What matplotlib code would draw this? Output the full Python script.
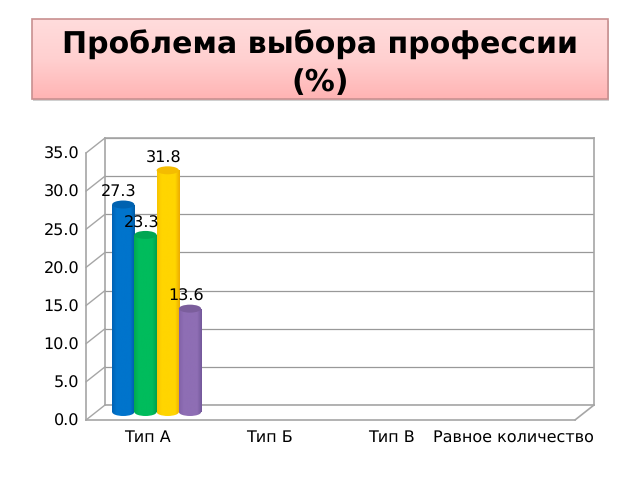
#!/usr/bin/env python3
"""Bar chart with fake 3D cylinders, rebuilt from three stacked axes."""

import matplotlib

matplotlib.use("Agg")
import matplotlib.pyplot as plt
import numpy as np
from matplotlib.colors import LinearSegmentedColormap
from matplotlib.patches import ConnectionPatch, Ellipse, FancyBboxPatch

plt.rcParams["font.family"] = ["DejaVu Sans"]
plt.rcParams["text.hinting"] = "no_hinting"
plt.rcParams["text.hinting_factor"] = 1

TITLE = "Проблема выбора профессии\n(%)"
categories = ["Тип А", "Тип Б", "Тип В", "Равное количество"]
series_values = [27.3, 23.3, 31.8, 13.6]
y_ticks = [0, 5, 10, 15, 20, 25, 30, 35]
y_labels = ["0.0", "5.0", "10.0", "15.0", "20.0", "25.0", "30.0", "35.0"]
# edge, body, edge for each cylinder
bar_colors = [
    ("#0062B4", "#0074CC", "#005CA6"),
    ("#00A850", "#00BC5C", "#00A04C"),
    ("#F8C400", "#FFD500", "#ECAC00"),
    ("#8262A8", "#8E6EB4", "#73589A"),
]
cap_colors = ["#0062B0", "#00A652", "#F4BC00", "#7B5E9C"]

W, H = 640, 480
GRAY = "#A6A6A6"
BAR_W = 0.182
CAP_H = 1.05


def make_axes(left, right, bottom, top):
    # pixel box (y from the top of the picture) -> figure fractions
    ax = fig.add_axes([left / W, 1 - bottom / H, (right - left) / W, (bottom - top) / H])
    ax.set_xlim(0, 4)
    ax.set_ylim(0, 35)
    ax.patch.set_alpha(0)
    return ax


fig = plt.figure(figsize=(6.4, 4.8), dpi=100)

# title box with a vertical pink gradient
box_ax = fig.add_axes([0, 0, 1, 1])
box_ax.set_xlim(0, W)
box_ax.set_ylim(H, 0)
box_ax.axis("off")
box_ax.add_patch(
    FancyBboxPatch((33, 21), 576, 80, boxstyle="square,pad=0", fc="#BDBDBD", ec="none", alpha=0.7)
)
box = FancyBboxPatch((32, 19), 576, 80, boxstyle="square,pad=0", fc="none", ec="#C89090", lw=1.2)
pink = LinearSegmentedColormap.from_list("pink_box", ["#FFDCDC", "#FFD0D0", "#FFB4B4"])
box_im = box_ax.imshow(
    np.linspace(0, 1, 64).reshape(-1, 1), extent=(32, 608, 99, 19), cmap=pink, aspect="auto", zorder=2
)
box_ax.add_patch(box)
box.set_zorder(3)
box_im.set_clip_path(box)
box_ax.set_xlim(0, W)
box_ax.set_ylim(H, 0)
box_ax.text(320, 63.5, TITLE, ha="center", va="center", fontsize=21.9, fontweight="bold",
            linespacing=1.35, color="black", zorder=4)

# back wall, gridlines only
back = make_axes(105, 594, 405, 138)
back.set_yticks(y_ticks)
back.set_xticks([])
back.tick_params(left=False, labelleft=False)
back.grid(axis="y", color="#999999", lw=0.9)
for spine in back.spines.values():
    spine.set_color(GRAY)
    spine.set_linewidth(1.2)

# front plane: holds the tick labels and the floor edge
front = make_axes(86, 575, 420, 153)
front.set_yticks(y_ticks, y_labels, fontsize=11.2)
front.set_xticks(np.arange(len(categories)) + 0.5, categories, fontsize=11.2)
front.tick_params(length=0, colors="black")
front.tick_params(axis="y", pad=5)
front.tick_params(axis="x", pad=7)
for name, spine in front.spines.items():
    spine.set_visible(name in ("left", "bottom"))
    spine.set_color(GRAY)
    spine.set_linewidth(1.2)

# slanted lines between front and back
for tick in y_ticks:
    fig.add_artist(ConnectionPatch((0, tick), (0, tick), coordsA=front.transData,
                                   coordsB=back.transData, color=GRAY, lw=1.0))
fig.add_artist(ConnectionPatch((4, 0), (4, 0), coordsA=front.transData,
                               coordsB=back.transData, color=GRAY, lw=1.2))

# middle plane: the cylinders stand here
mid = make_axes(95.5, 584.5, 412, 146)
mid.axis("off")
offsets = (np.arange(len(series_values)) - 1.5) * BAR_W

for i, (value, off) in enumerate(zip(series_values, offsets)):
    x0 = 0.5 + off - BAR_W / 2
    x1 = x0 + BAR_W
    cx = 0.5 + off
    edge_l, body, edge_r = bar_colors[i]
    cmap = LinearSegmentedColormap.from_list(
        f"cyl{i}", [(0, edge_l), (0.2, body), (0.8, body), (1, edge_r)]
    )
    shade = np.linspace(0, 1, 64).reshape(1, -1)
    z = 2 + i

    bar = mid.bar(cx, value, width=BAR_W, color=body, zorder=z)[0]
    bottom_cap = Ellipse((cx, 0), BAR_W, CAP_H, fc="none", ec="none", zorder=z)
    mid.add_patch(bottom_cap)
    bottom_cap.set_clip_on(False)

    # one gradient image for the body, one for the rounded foot
    im = mid.imshow(shade, extent=(x0, x1, 0, value), cmap=cmap, aspect="auto", zorder=z)
    im.set_clip_path(bar)
    foot = mid.imshow(shade, extent=(x0, x1, -CAP_H, 0), cmap=cmap, aspect="auto", zorder=z)
    # the foot hangs below the axes box, so only the ellipse may clip it
    foot.set_clip_box(fig.bbox)
    foot.set_clip_path(bottom_cap.get_path(), bottom_cap.get_transform())

    mid.add_patch(Ellipse((cx, value), BAR_W, CAP_H, fc=cap_colors[i], ec="none", zorder=z + 0.5))
    mid.annotate(f"{value:.1f}", (cx, value), xytext=(-3, 3), textcoords="offset points",
                 ha="center", va="bottom", fontsize=11.2, color="black", zorder=20)

mid.set_xlim(0, 4)
mid.set_ylim(0, 35)

fig.savefig("out.png", dpi=100)
